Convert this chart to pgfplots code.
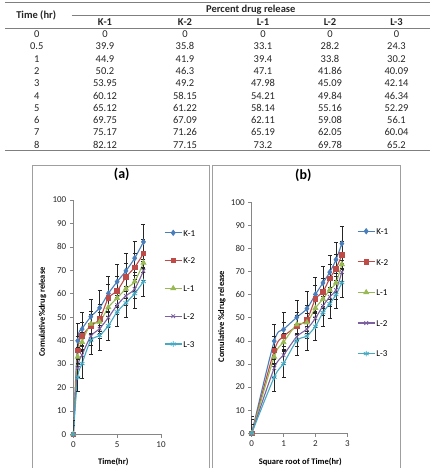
\documentclass[border=0pt]{standalone}
\usepackage{fontspec}
\setmainfont{Carlito}
\usepackage{pgfplots}
\usepackage{pgfplotstable}
\pgfplotsset{compat=1.18}

\definecolor{cK1}{HTML}{4A7EBB}
\definecolor{cK2}{HTML}{BE4B48}
\definecolor{cL1}{HTML}{98B954}
\definecolor{cL2}{HTML}{7D60A0}
\definecolor{cL3}{HTML}{46AAC5}
\definecolor{axgray}{HTML}{868686}
\definecolor{rulegray}{HTML}{7F7F7F}

\pgfplotstableread{
t st K1 K2 L1 L2 L3
0 0 0 0 0 0 0
0.5 0.7071 39.9 35.8 33.1 28.2 24.3
1 1 44.9 41.9 39.4 33.8 30.2
2 1.4142 50.2 46.3 47.1 41.86 40.09
3 1.7321 53.95 49.2 47.98 45.09 42.14
4 2 60.12 58.15 54.21 49.84 46.34
5 2.2361 65.12 61.22 58.14 55.16 52.29
6 2.4495 69.75 67.09 62.11 59.08 56.1
7 2.6458 75.17 71.26 65.19 62.05 60.04
8 2.8284 82.12 77.15 73.2 69.78 65.2
}\release

\pgfplotsset{
  relplot/.style={
    scale only axis, clip=true,
    axis x line*=bottom, axis y line*=left,
    axis line style={-, axgray, line width=0.7pt},
    ymin=0, ymax=100, ytick={0,10,...,100},
    tick align=outside, major tick length=3.5pt,
    tick style={axgray, line width=0.7pt},
    every tick label/.append style={font=\fontsize{9}{10}\selectfont, text=black!85},
    /pgf/number format/assume math mode=true,
    title style={anchor=center, font=\bfseries\fontsize{14}{16}\selectfont},
    xlabel style={anchor=center, font=\bfseries\fontsize{8.5}{10}\selectfont},
    ylabel style={anchor=center, font=\bfseries\fontsize{8.5}{10}\selectfont},
    legend style={draw=none, fill=none, anchor=north west,
      font=\fontsize{9}{10}\selectfont, inner sep=0pt,
      nodes={inner sep=1pt, text height=6.5pt, text depth=0pt},
      /tikz/every even column/.append style={column sep=2pt}},
    legend cell align=left,
    legend image code/.code={\draw[mark repeat=2, mark phase=2, ##1] plot coordinates {(0pt,0pt) (8.5pt,0pt) (17pt,0pt)};},
    error bars/error bar style={black!85, line width=0.5pt, solid},
    error bars/error mark options={rotate=90, mark size=2pt, line width=0.5pt, black!85, solid},
  },
  ser/.style n args={3}{color=#1, line width=1.1pt, smooth, mark=#2, mark size=#3,
    mark options={solid, fill=#1, line width=0.8pt}},
}

\begin{document}
\begin{tikzpicture}
\path[use as bounding box] (0pt,0pt) rectangle (439pt,468pt);

% ---------- table ----------
\begin{scope}[x=1pt, y=1pt]
  \draw[rulegray, line width=1.1pt] (5,465.3) -- (430,465.3);
  \draw[rulegray, line width=0.6pt] (71.7,453) -- (430,453);
  \draw[rulegray, line width=0.8pt] (5,439.7) -- (430,439.7);
  \draw[rulegray, line width=1.5pt] (5,317.3) -- (430,317.3);
  \begin{scope}[every node/.style={inner sep=0pt, text height=6.6pt, text depth=0pt, anchor=center, font=\fontsize{10.5}{12}\selectfont, text=black!85}]
    \node[font=\bfseries\fontsize{10.5}{12}\selectfont] at (36.2,452.7) {Time (hr)};
    \node[font=\bfseries\fontsize{10.5}{12}\selectfont] at (250.8,458.7) {Percent drug release};
    \foreach \xx/\lab in {105/K-1, 185/K-2, 263/L-1, 330/L-2, 396.5/L-3}
      \node[font=\bfseries\fontsize{10.5}{12}\selectfont] at (\xx,445.3) {\lab};
    \foreach \i/\tt/\a/\b/\c/\d/\e in {
      0/0/0/0/0/0/0,
      1/0.5/39.9/35.8/33.1/28.2/24.3,
      2/1/44.9/41.9/39.4/33.8/30.2,
      3/2/50.2/46.3/47.1/41.86/40.09,
      4/3/53.95/49.2/47.98/45.09/42.14,
      5/4/60.12/58.15/54.21/49.84/46.34,
      6/5/65.12/61.22/58.14/55.16/52.29,
      7/6/69.75/67.09/62.11/59.08/56.1,
      8/7/75.17/71.26/65.19/62.05/60.04,
      9/8/82.12/77.15/73.2/69.78/65.2}{
      \node at (36.7,{468-34.3-12.3*\i}) {\tt};
      \node at (105,{468-34.3-12.3*\i}) {\a};
      \node at (185,{468-34.3-12.3*\i}) {\b};
      \node at (263,{468-34.3-12.3*\i}) {\c};
      \node at (330,{468-34.3-12.3*\i}) {\d};
      \node at (396.5,{468-34.3-12.3*\i}) {\e};
    }
  \end{scope}
  % panel frames
  \draw[gray!75, line width=0.8pt] (32.7,-10) rectangle (209.3,303);
  \draw[gray!75, line width=0.8pt] (212,-10) rectangle (400.7,303);
\end{scope}

% ---------- panel (a) ----------
\begin{axis}[relplot, at={(73.3pt,33.7pt)}, anchor=south west,
  width=87.7pt, height=234.3pt, xmin=0, xmax=10, xtick={0,5,10},
  title={(a)}, title style={at={(0.552,1.085)}},
  xlabel={Time(hr)}, xlabel style={at={(axis description cs:0.456,-0.117)}},
  ylabel={Comulative\%drug release}, ylabel style={at={(axis description cs:-0.349,0.522)}},
  legend style={at={(1.034,0.879)}, row sep=19.3pt}]
\addplot[ser={cK1}{diamond*}{2.6pt}, error bars/.cd, y dir=both, y fixed=7.4] table[x=t, y=K1] {\release};
\addplot[ser={cK2}{square*}{2.3pt}, error bars/.cd, y dir=both, y fixed=6.1] table[x=t, y=K2] {\release};
\addplot[ser={cL1}{triangle*}{2.8pt}, error bars/.cd, y dir=both, y fixed=4] table[x=t, y=L1] {\release};
\addplot[ser={cL2}{x}{2.6pt}, error bars/.cd, y dir=both, y fixed=4] table[x=t, y=L2] {\release};
\addplot[ser={cL3}{asterisk}{2.8pt}, error bars/.cd, y dir=both, y fixed=6.1] table[x=t, y=L3] {\release};
\legend{K-1, K-2, L-1, L-2, L-3}
\end{axis}

% ---------- panel (b) ----------
\begin{axis}[relplot, at={(251.7pt,34.7pt)}, anchor=south west,
  width=95.6pt, height=231pt, xmin=0, xmax=3, xtick={0,1,2,3},
  title={(b)}, title style={at={(0.54,1.089)}},
  xlabel={Square root of Time(hr)}, xlabel style={at={(axis description cs:0.508,-0.123)}},
  ylabel={Comulative \%drug release}, ylabel style={at={(axis description cs:-0.311,0.505)}},
  legend style={at={(1.101,0.894)}, row sep=22.1pt}]
\addplot[ser={cK1}{diamond*}{2.6pt}, error bars/.cd, y dir=both, y fixed=7.4] table[x=st, y=K1] {\release};
\addplot[ser={cK2}{square*}{2.3pt}, error bars/.cd, y dir=both, y fixed=6.1] table[x=st, y=K2] {\release};
\addplot[ser={cL1}{triangle*}{2.8pt}, error bars/.cd, y dir=both, y fixed=4] table[x=st, y=L1] {\release};
\addplot[ser={cL2}{x}{2.6pt}, error bars/.cd, y dir=both, y fixed=4] table[x=st, y=L2] {\release};
\addplot[ser={cL3}{asterisk}{2.8pt}, error bars/.cd, y dir=both, y fixed=6.1] table[x=st, y=L3] {\release};
\legend{K-1, K-2, L-1, L-2, L-3}
\end{axis}
\end{tikzpicture}
\end{document}
